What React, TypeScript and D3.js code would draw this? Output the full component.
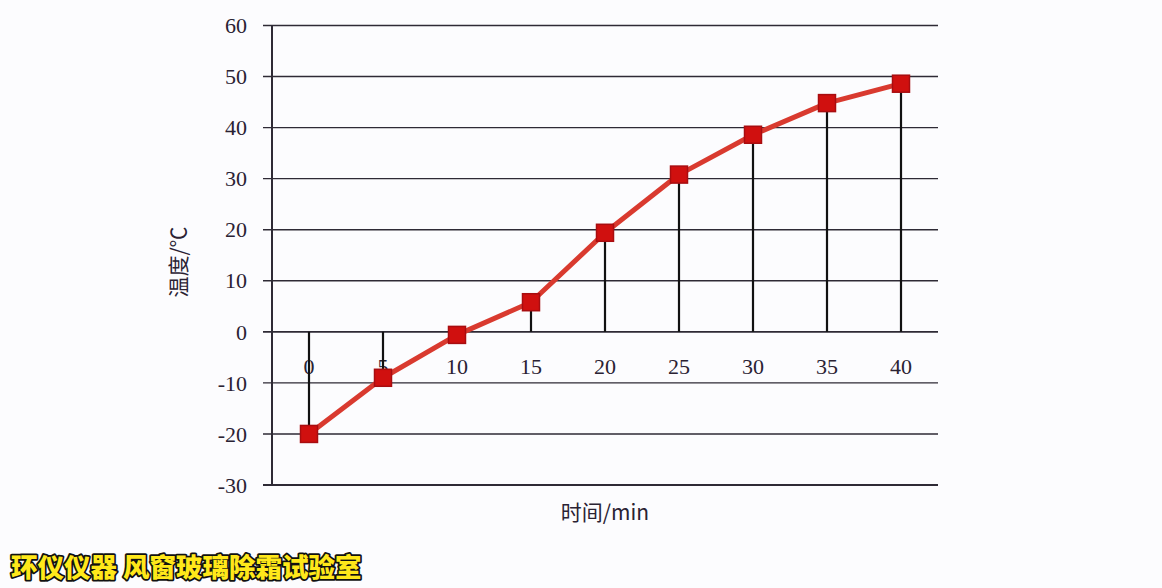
import React, { useEffect, useRef } from 'react';
import * as d3 from 'd3';

// time (min) and temperature (°C)
const times = [0, 5, 10, 15, 20, 25, 30, 35, 40];
const temps = [-20, -9, -0.6, 5.8, 19.4, 30.8, 38.6, 44.8, 48.6];
const yTicks = [-30, -20, -10, 0, 10, 20, 30, 40, 50, 60];

const W = 1162;
const H = 588;

const App: React.FC = () => {
  const svgRef = useRef<SVGSVGElement>(null);

  useEffect(() => {
    if (!svgRef.current) return;
    const svg = d3.select(svgRef.current);
    svg.selectAll('*').remove();

    const x = d3.scaleLinear().domain([0, 40]).range([309, 901]);
    const y = d3.scaleLinear().domain([-30, 60]).range([485, 25.5]);
    const axisLeft = 272;
    const gridRight = 938;
    const font = '"Liberation Serif", "DejaVu Serif", serif';

    svg.append('rect').attr('width', W).attr('height', H).attr('fill', '#fcfcfe');

    // horizontal gridlines with small ticks left of the axis
    svg.append('g')
      .selectAll('line')
      .data(yTicks)
      .enter()
      .append('line')
      .attr('x1', 263)
      .attr('x2', gridRight)
      .attr('y1', d => y(d))
      .attr('y2', d => y(d))
      .attr('stroke', '#2e2a35')
      .attr('stroke-width', d => (d === 0 || d === -30 ? 1.8 : 1.4));

    // y axis line
    svg.append('line')
      .attr('x1', axisLeft).attr('x2', axisLeft)
      .attr('y1', y(60)).attr('y2', y(-30))
      .attr('stroke', '#2e2a35').attr('stroke-width', 2);

    // y tick labels
    svg.append('g')
      .selectAll('text')
      .data(yTicks)
      .enter()
      .append('text')
      .attr('x', 247)
      .attr('y', d => y(d))
      .attr('dy', '0.35em')
      .attr('text-anchor', 'end')
      .attr('font-family', font)
      .attr('font-size', 22)
      .attr('fill', '#2a2233')
      .text(d => d);

    // x tick labels sit just below the zero line
    svg.append('g')
      .selectAll('text')
      .data(times)
      .enter()
      .append('text')
      .attr('x', d => x(d))
      .attr('y', y(0) + 42)
      .attr('text-anchor', 'middle')
      .attr('font-family', font)
      .attr('font-size', 22)
      .attr('fill', '#2a2233')
      .text(d => d);

    // drop lines from each point to the zero line
    svg.append('g')
      .selectAll('line')
      .data(times)
      .enter()
      .append('line')
      .attr('x1', d => x(d))
      .attr('x2', d => x(d))
      .attr('y1', (d, i) => y(temps[i]))
      .attr('y2', y(0))
      .attr('stroke', '#111')
      .attr('stroke-width', 2.2);

    // the series line
    const line = d3.line<number>()
      .x((d, i) => x(times[i]))
      .y(d => y(d));

    svg.append('path')
      .datum(temps)
      .attr('d', line)
      .attr('fill', 'none')
      .attr('stroke', '#d93a2f')
      .attr('stroke-width', 5)
      .attr('stroke-linejoin', 'round');

    const ms = 17;
    svg.append('g')
      .selectAll('rect')
      .data(temps)
      .enter()
      .append('rect')
      .attr('x', (d, i) => x(times[i]) - ms / 2)
      .attr('y', d => y(d) - ms / 2)
      .attr('width', ms)
      .attr('height', ms)
      .attr('fill', '#d0100f')
      .attr('stroke', '#a80d10')
      .attr('stroke-width', 1.5);

    // axis titles
    svg.append('text')
      .attr('transform', `translate(186,262) rotate(-90)`)
      .attr('text-anchor', 'middle')
      .attr('font-family', '"Noto Sans CJK SC", serif')
      .attr('font-size', 21)
      .attr('fill', '#2a2233')
      .text('温度/℃');

    svg.append('text')
      .attr('x', 605)
      .attr('y', 520)
      .attr('text-anchor', 'middle')
      .attr('font-family', '"Noto Sans CJK SC", serif')
      .attr('font-size', 21)
      .attr('fill', '#2a2233')
      .text('时间/min');

    // watermark caption
    svg.append('text')
      .attr('x', 11)
      .attr('y', 577)
      .attr('font-family', '"Noto Sans CJK SC", sans-serif')
      .attr('font-weight', 900)
      .attr('font-size', 26.5)
      .attr('fill', '#ffe81a')
      .attr('stroke', '#111')
      .attr('stroke-width', 3.5)
      .attr('paint-order', 'stroke')
      .attr('stroke-linejoin', 'round')
      .text('环仪仪器 风窗玻璃除霜试验室');
  }, []);

  return (
    <svg
      ref={svgRef}
      width={W}
      height={H}
      style={{ position: 'fixed', left: 0, top: 0, display: 'block' }}
    />
  );
};

export default App;
